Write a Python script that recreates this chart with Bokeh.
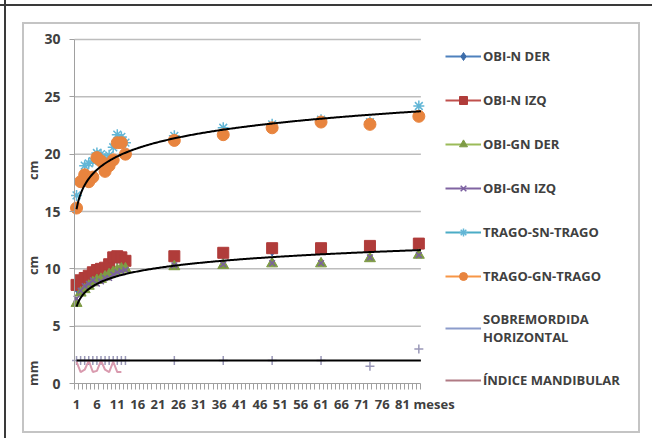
import numpy as np
from bokeh.plotting import figure
from bokeh.models import (FixedTicker, Legend, LegendItem, Label,
                          ColumnDataSource, Range1d)
from bokeh.embed import file_html
from bokeh.resources import INLINE

# ---------------- data ----------------
months = [1, 2, 3, 4, 5, 6, 7, 8, 9, 10, 11, 12, 13, 25, 37, 49, 61, 73, 85]
obi_n_der = [8.4, 8.8, 9.0, 9.2, 9.5, 9.7, 9.8, 10.0, 10.3, 10.8, 10.9, 10.8, 10.5, 11.0, 11.3, 11.6, 11.7, 11.9, 12.0]
obi_n_izq = [8.6, 9.0, 9.2, 9.4, 9.7, 9.9, 10.0, 10.1, 10.4, 11.0, 11.1, 11.0, 10.7, 11.1, 11.4, 11.8, 11.8, 12.0, 12.2]
obi_gn_der = [7.0, 7.9, 8.2, 8.5, 8.8, 9.0, 9.1, 9.3, 9.5, 9.7, 9.9, 10.0, 10.0, 10.2, 10.3, 10.45, 10.45, 10.9, 11.2]
obi_gn_izq = [7.4, 8.1, 8.5, 8.7, 9.0, 8.7, 8.9, 9.2, 9.2, 9.5, 9.7, 9.8, 9.9, 10.3, 10.4, 10.5, 10.5, 11.0, 11.2]
trago_sn = [16.4, 17.6, 19.0, 19.2, 19.4, 20.1, 20.0, 19.6, 19.9, 20.6, 21.7, 21.5, 21.0, 21.6, 22.3, 22.6, 23.0, 22.8, 24.2]
trago_gn = [15.3, 17.6, 18.2, 17.6, 18.0, 19.7, 19.4, 18.5, 19.0, 19.5, 21.0, 21.0, 20.0, 21.2, 21.7, 22.3, 22.8, 22.6, 23.3]
sobremordida = [2.0, 2.0, 2.0, 2.0, 2.0, 2.0, 2.0, 2.0, 2.0, 2.0, 2.0, 2.0, 2.0, 2.0, 2.0, 2.0, 2.0, 1.5, 3.0]
indice_months = [1, 2, 3, 4, 5, 6, 7, 8, 9, 10, 11, 12]
indice_mandibular = [1.9, 1.0, 1.2, 2.0, 1.0, 1.1, 2.0, 1.2, 1.0, 1.9, 1.0, 1.0]

# logarithmic trend lines  y = a + b*ln(x)
trend_a = [15.2, 6.7, 2.0]
trend_b = [1.92, 1.11, 0.0]

x_tick_values = [1, 6, 11, 16, 21, 26, 31, 36, 41, 46, 51, 56, 61, 66, 71, 76, 81]
y_tick_values = [0, 5, 10, 15, 20, 25, 30]
unit_texts = ["cm", "cm", "mm"]
x_title = "meses"
series_names = ["OBI-N DER", "OBI-N IZQ", "OBI-GN DER", "OBI-GN IZQ", "TRAGO-SN-TRAGO",
                "TRAGO-GN-TRAGO", "SOBREMORDIDA\nHORIZONTAL", "ÍNDICE MANDIBULAR"]

FONT = "Open Sans"
TXT = "#404040"
GRID = "#BDBDBD"
X0, X1 = 0.5, 85.5          # category span of the axis
Y0, Y1 = 0, 30

# the plot frame spans the whole canvas; the axes sit at fixed locations inside it
p = figure(width=652, height=438, output_backend="svg", toolbar_location=None,
           x_range=Range1d(-17.66, 142.34), y_range=Range1d(-4.796, 33.401),
           min_border=0)
p.outline_line_color = None
p.background_fill_alpha = 0
p.border_fill_alpha = 0
# chart-area border (grey) and outer frame (dark), drawn as page decoration
p.styles = {
    "background-color": "white",
    "background-image": ", ".join(["linear-gradient(#3a3a3a,#3a3a3a)"] * 2 +
                                  ["linear-gradient(#C4C4C4,#C4C4C4)"] * 4),
    "background-position": "4px 0px, 0px 4px, 22px 22px, 22px 22px, 638px 22px, 22px 431px",
    "background-size": "2px 438px, 652px 2px, 2px 411px, 618px 2px, 2px 411px, 618px 2px",
    "background-repeat": "no-repeat",
}
p.xgrid.visible = False
p.ygrid.visible = False

# horizontal grid lines at the y ticks, spanning the category axis
p.segment(x0=X0, x1=X1, y0=y_tick_values[1:], y1=y_tick_values[1:],
          line_color=GRID, line_width=1.5, level="underlay")

# x axis
p.xaxis.fixed_location = Y0
p.xaxis.bounds = (X0, X1)
p.xaxis.ticker = FixedTicker(ticks=x_tick_values,
                             minor_ticks=[m + 0.5 for m in range(0, 86)])
p.xaxis.major_tick_out = 0
p.xaxis.major_tick_in = 0
p.xaxis.minor_tick_out = 6
p.xaxis.minor_tick_in = 0
p.xaxis.minor_tick_line_color = "#A0A0A0"
p.xaxis.axis_line_color = "#A0A0A0"
p.xaxis.major_label_standoff = 10
p.xaxis.major_label_text_font = FONT
p.xaxis.major_label_text_font_style = "bold"
p.xaxis.major_label_text_font_size = "13px"
p.xaxis.major_label_text_color = TXT

# y axis
p.yaxis.fixed_location = X0
p.yaxis.bounds = (Y0, Y1)
p.yaxis.ticker = FixedTicker(ticks=y_tick_values)
p.yaxis.major_tick_out = 5
p.yaxis.major_tick_in = 0
p.yaxis.minor_tick_line_color = None
p.yaxis.major_tick_line_color = "#A0A0A0"
p.yaxis.axis_line_color = "#A0A0A0"
p.yaxis.major_label_standoff = 9
p.yaxis.major_label_text_font = FONT
p.yaxis.major_label_text_font_style = "bold"
p.yaxis.major_label_text_font_size = "14px"
p.yaxis.major_label_text_color = TXT

src = ColumnDataSource(dict(x=months, a=obi_n_der, b=obi_n_izq, c=obi_gn_der, d=obi_gn_izq,
                            e=trago_sn, f=trago_gn, g=sobremordida))
# placeholder source (NaN only) for the legend line swatches
swatch = ColumnDataSource(dict(x=[np.nan], y=[np.nan]))

leg_cols = ["#4F81BD", "#C0504D", "#9BBB59", "#8064A2", "#4BACC6", "#F79646", "#8C9CCB", "#B07A84"]
leg_lines = [p.line("x", "y", source=swatch, line_color=c, line_width=2) for c in leg_cols]

r1 = p.scatter("x", "a", source=src, marker="diamond", size=11, color="#3D6DAA")
r2 = p.scatter("x", "b", source=src, marker="square", size=11, color="#B03C3A")
r3 = p.scatter("x", "c", source=src, marker="triangle", size=11, color="#7E9B45")
r4 = p.scatter("x", "d", source=src, marker="x", size=8, line_color="#7B5FA0", line_width=1.5)
r5 = p.scatter("x", "e", source=src, marker="asterisk", size=11, line_color="#62B6D6", line_width=1.5)
r6 = p.scatter("x", "f", source=src, marker="circle", size=12, color="#E8843E")
r7 = p.scatter("x", "g", source=src, marker="cross", size=9, line_color="#9A98B8", line_width=1.5)
r8 = p.line(indice_months, indice_mandibular, line_color="#D99AAE", line_width=2)

# trend lines
xt = np.linspace(1, X1, 300)
for a, b in zip(trend_a, trend_b):
    p.line(xt, a + b * np.log(xt), line_color="black", line_width=2)

items = [LegendItem(label=series_names[0], renderers=[leg_lines[0], r1]),
         LegendItem(label=series_names[1], renderers=[leg_lines[1], r2]),
         LegendItem(label=series_names[2], renderers=[leg_lines[2], r3]),
         LegendItem(label=series_names[3], renderers=[leg_lines[3], r4]),
         LegendItem(label=series_names[4], renderers=[leg_lines[4], r5]),
         LegendItem(label=series_names[5], renderers=[leg_lines[5], r6]),
         LegendItem(label=series_names[6], renderers=[leg_lines[6]]),
         LegendItem(label=series_names[7], renderers=[leg_lines[7]])]
legend = Legend(items=items, location=(445, 48), padding=0, margin=0, spacing=24,
                label_height=20, glyph_height=20, glyph_width=36, label_standoff=2,
                border_line_color=None, background_fill_alpha=0,
                label_text_font=FONT, label_text_font_style="bold",
                label_text_font_size="13px", label_text_color=TXT)
p.add_layout(legend, "center")

# unit labels left of the y axis and the x-axis title right of the last tick
for txt, yv in zip(unit_texts, [18.6, 10.3, 0.9]):
    p.add_layout(Label(x=-9.8, y=yv, text=txt, angle=np.pi / 2, text_align="center",
                       text_baseline="middle", text_font=FONT, text_font_style="bold",
                       text_font_size="13px", text_color=TXT))
p.add_layout(Label(x=83.7, y=-1.75, text=x_title, text_align="left", text_baseline="middle",
                   text_font=FONT, text_font_style="bold", text_font_size="13px", text_color=TXT))

open("out.html", "w").write(file_html(p, INLINE))
